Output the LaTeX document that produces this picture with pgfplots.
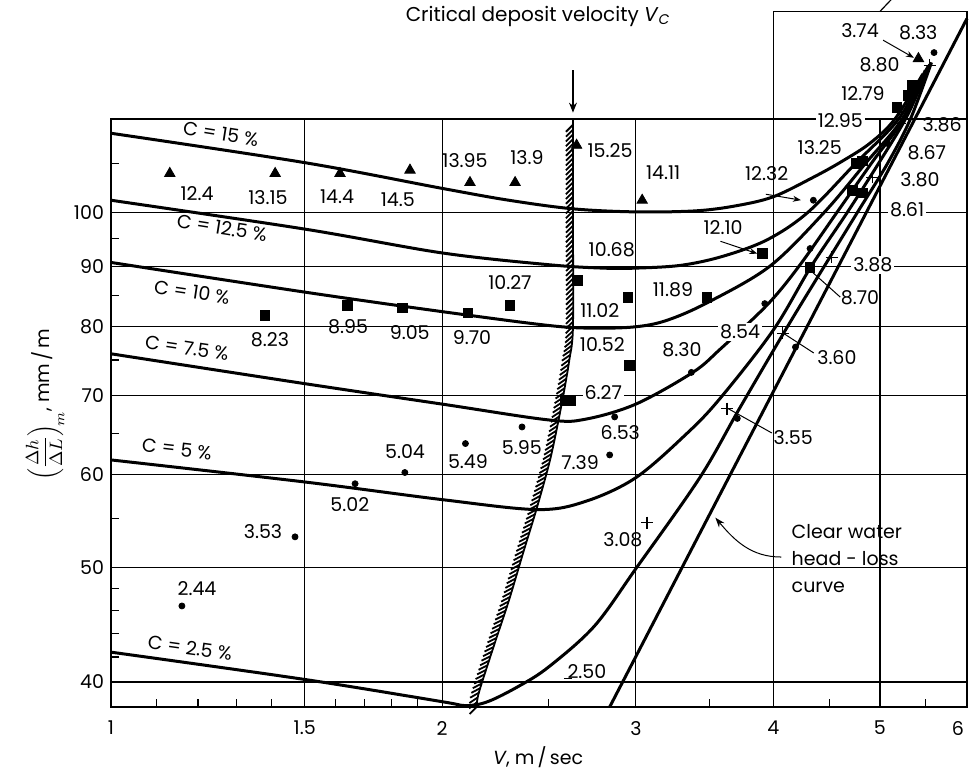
\documentclass[border=0pt]{standalone}
\usepackage{pgfplots}
\pgfplotsset{compat=1.18}
\usepackage{fontspec}
\setmainfont{Poppins}
\usetikzlibrary{decorations.pathreplacing,arrows.meta}
\begin{document}
\begin{tikzpicture}[font=\fontsize{9.5}{11}\selectfont]
\begin{axis}[
  scale only axis, width=428pt, height=294pt,
  xmode=log, ymode=log,
  xmin=1, xmax=6, ymin=38.1, ymax=120,
  xtick={1,1.5,2,3,4,5,6}, xticklabels={1,1.5,2,3,4,5,\makebox[0pt][r]{6\kern1.5pt}},
  xticklabel style={yshift=-3.5pt},
  ytick={40,50,60,70,80,90,100}, yticklabels={40,50,60,70,80,90,100},
  minor xtick={1.1,1.2,1.3,1.4,1.6,1.7,1.8,1.9,2.5,3.5,4.5,5.5},
  minor ytick={42,44,46,48,55,65,75,85,95,110},
  tick pos=left, tick align=inside,
  major tick length=0pt, minor tick length=4pt,
  grid=major, major grid style={black, line width=0.6pt},
  axis line style={black, line width=0.9pt},
  tick style={black, line width=0.6pt},
  clip=false,
  /pgf/number format/assume math mode=true,
  xlabel={\textit{V}, m\,/\,sec},
  xlabel style={at={(axis description cs:0.499,-0.085)}, anchor=center},
  ylabel={$\left(\displaystyle\frac{\Delta h}{\Delta L}\right)_{\!m}$, mm\,/\,m},
  ylabel style={at={(axis description cs:-0.077,0.514)}, anchor=center},
  curve/.style={black, line width=1.5pt, smooth, tension=0.55},
]
% clear water line
\addplot[black, line width=1.5pt] coordinates {(2.84,38.1) (6.0,146)};
% C = 2.5 %
\addplot[curve] coordinates {(1,42.4) (1.5,40.2) (2,38.5) (2.1,38.2) (2.2,38.5) (2.35,39.7) (2.5,41.2) (2.75,44.6) (3.0,49.9) (3.43,59.6) (3.73,68.3) (4.12,80) (4.45,90) (4.77,100) (5.08,110) (5.33,120) (5.57,134)};
% C = 5 %
\addplot[curve] coordinates {(1,61.7) (1.5,59.1) (2,57.1) (2.44,56.0) (2.7,56.9) (3.0,59.6) (3.34,65.0) (3.58,69.6) (4.0,79.5) (4.33,90) (4.67,100) (5.0,110.5) (5.3,121) (5.55,133.5)};
% C = 7.5 %
\addplot[curve] coordinates {(1,75.9) (1.5,71.6) (2,68.8) (2.5,66.7) (2.7,66.8) (3.0,68.8) (3.38,73.2) (3.58,76.6) (3.95,83.5) (4.22,90) (4.57,100) (4.92,110.3) (5.27,120.5) (5.53,133)};
% C = 10 %
\addplot[curve] coordinates {(1,90.7) (1.5,85.6) (2,82.4) (2.5,80.2) (2.75,79.8) (3.0,80.0) (3.2,81.0) (3.48,83.8) (3.97,90) (4.45,100) (4.85,110) (5.24,120) (5.52,132.5)};
% C = 12.5 %
\addplot[curve] coordinates {(1,102.4) (1.5,96.8) (2,92.4) (2.5,90.3) (2.8,89.7) (3.0,89.7) (3.3,90.2) (3.6,91.8) (3.95,94.8) (4.30,100) (4.75,110) (5.2,120) (5.5,132)};
% C = 15 %
\addplot[curve] coordinates {(1,116.7) (1.5,110.2) (2,104.8) (2.3,102.4) (2.63,100.7) (3.0,100.1) (3.4,100.3) (3.7,101.3) (4.0,103.1) (4.35,107.1) (4.62,110.5) (4.9,114.5) (5.16,120) (5.47,131)};
% critical deposit velocity (hatched)
\addplot[black, line width=0.9pt, smooth, tension=0.5,
  postaction={decorate, decoration={border, segment length=2.4pt, amplitude=5pt, angle=135}}]
  coordinates {(2.15,38.1) (2.16,39.2) (2.23,43) (2.30,46.9) (2.37,51.5) (2.44,56.3) (2.51,62) (2.57,69) (2.61,75) (2.63,80) (2.63,100) (2.63,120)};
% markers
\addplot[only marks, mark=triangle*, mark size=3pt, black] coordinates {(1.131,107.9) (1.41,107.9) (1.615,107.9) (1.87,108.6) (2.12,106.0) (2.33,106.0) (2.65,114) (3.04,102.4) (5.42,135)};
\addplot[only marks, mark=square*, mark size=2.4pt, black] coordinates {(1.38,81.8) (1.64,83.4) (1.84,83.0) (2.11,82.2) (2.305,83.4) (2.655,87.6) (2.95,84.7) (2.96,74.2) (2.615,69.3) (2.59,69.3) (3.48,84.7) (3.91,92.3) (4.32,89.8) (4.72,104.4) (4.82,103.9) (4.76,110.0) (4.82,110.6) (5.18,122.7) (5.30,125.6) (5.35,128.1)};
\addplot[only marks, mark=*, mark size=1.5pt, black] coordinates {(1.16,46.4) (1.47,53.1) (1.667,58.9) (1.85,60.2) (2.10,63.7) (2.364,65.8) (2.84,62.3) (2.87,67.1) (3.37,73.2) (3.71,66.9) (3.93,83.7) (4.19,76.9) (4.32,93.2) (4.35,102.4) (5.08,114.4) (5.6,136.6)};
\addplot[only marks, mark=+, mark size=3pt, black, line width=0.7pt] coordinates {(3.07,54.6) (3.63,68.2) (4.08,79.0) (4.52,91.6) (4.92,107.1) (5.22,119.0) (5.55,133.2)};
% top-right box
\draw[line width=0.8pt] (axis cs:4,120) -- (axis cs:4,148) -- (axis cs:6,148) -- (axis cs:6,120);
\draw[line width=0.6pt] (axis cs:5,148) -- ++(0,-4pt);
% Vc arrow and title
\draw[line width=0.6pt, -{Stealth[length=5pt,width=4pt]}] (axis cs:2.63,132) -- (axis cs:2.63,121.5);
\node[font=\fontsize{10}{12}\selectfont] at (axis description cs:0.499,1.175) {Critical deposit velocity \textit{V}\textsubscript{\textit{C}}};
% curve labels
\node[rotate=-9] at (axis description cs:0.1285,0.9745) {C = 15 \%};
\node[rotate=-9] at (axis description cs:0.1297,0.8146) {C = 12.5 \%};
\node[rotate=-8.5] at (axis description cs:0.0947,0.7058) {C = 10 \%};
\node[rotate=-8.5] at (axis description cs:0.0888,0.6105) {C = 7.5 \%};
\node[rotate=-6.5] at (axis description cs:0.0771,0.4388) {C = 5 \%};
\node[rotate=-8] at (axis description cs:0.0923,0.1003) {C = 2.5 \%};
% point labels
\node at (axis description cs:0.1005,0.874) {12.4};
\node at (axis description cs:0.1834,0.867) {13.15};
\node at (axis description cs:0.264,0.867) {14.4};
\node at (axis description cs:0.335,0.862) {14.5};
\node at (axis description cs:0.4136,0.930) {13.95};
\node at (axis description cs:0.486,0.935) {13.9};
\node at (axis description cs:0.583,0.947) {15.25};
\node at (axis description cs:0.645,0.908) {14.11};
\node at (axis description cs:0.1857,0.624) {8.23};
\node at (axis description cs:0.277,0.646) {8.95};
\node at (axis description cs:0.349,0.636) {9.05};
\node at (axis description cs:0.4217,0.629) {9.70};
\node at (axis description cs:0.466,0.721) {10.27};
\node at (axis description cs:0.585,0.777) {10.68};
\node at (axis description cs:0.571,0.675) {11.02};
\node at (axis description cs:0.574,0.616) {10.52};
\node at (axis description cs:0.6565,0.709) {11.89};
\node[fill=white, inner sep=1pt] at (axis description cs:0.575,0.534) {6.27};
\node at (axis description cs:0.715,0.815) {12.10};
\node at (axis description cs:0.766,0.908) {12.32};
\node at (axis description cs:0.828,0.951) {13.25};
\node[fill=white, inner sep=1pt] at (axis description cs:0.852,0.998) {12.95};
\node at (axis description cs:0.8785,1.044) {12.79};
\node at (axis description cs:0.898,1.092) {8.80};
\node at (axis description cs:0.875,1.151) {3.74};
\node at (axis description cs:0.943,1.146) {8.33};
\node at (axis description cs:0.971,0.990) {3.86};
\node at (axis description cs:0.953,0.942) {8.67};
\node at (axis description cs:0.945,0.896) {3.80};
\node[fill=white, inner sep=1pt] at (axis description cs:0.930,0.845) {8.61};
\node[fill=white, inner sep=1pt] at (axis description cs:0.890,0.752) {3.88};
\node at (axis description cs:0.875,0.696) {8.70};
\node[fill=white, inner sep=1pt] at (axis description cs:0.735,0.638) {8.54};
\node at (axis description cs:0.848,0.594) {3.60};
\node at (axis description cs:0.667,0.607) {8.30};
\node at (axis description cs:0.797,0.459) {3.55};
\node at (axis description cs:0.595,0.466) {6.53};
\node[fill=white, inner sep=1pt] at (axis description cs:0.548,0.415) {7.39};
\node at (axis description cs:0.598,0.284) {3.08};
\node at (axis description cs:0.556,0.060) {2.50};
\node at (axis description cs:0.480,0.442) {5.95};
\node at (axis description cs:0.417,0.417) {5.49};
\node at (axis description cs:0.3435,0.434) {5.04};
\node at (axis description cs:0.279,0.344) {5.02};
\node at (axis description cs:0.1776,0.298) {3.53};
\node at (axis description cs:0.1005,0.202) {2.44};
% leaders
\draw[line width=0.5pt, -{Stealth[length=4pt,width=3pt]}] (axis description cs:0.902,1.134) -- (axis description cs:0.938,1.104);
\draw[line width=0.5pt, -{Stealth[length=4pt,width=3pt]}] (axis description cs:0.765,0.872) -- (axis description cs:0.806,0.862);
\draw[line width=0.5pt, -{Stealth[length=4pt,width=3pt]}] (axis description cs:0.712,0.792) -- (axis description cs:0.755,0.771);
\draw[line width=0.5pt] (axis description cs:0.7196,0.5085) -- (axis description cs:0.772,0.466);
\draw[line width=0.5pt] (axis description cs:0.785,0.636) -- (axis description cs:0.821,0.602);
\draw[line width=0.5pt] (axis description cs:0.8166,0.743) -- (axis description cs:0.852,0.697);
\draw[line width=0.5pt] (axis description cs:0.529,0.049) -- (axis description cs:0.538,0.049);
% clear water label
\node[align=left, anchor=west, font=\fontsize{9.5}{13.5}\selectfont] at (axis description cs:0.787,0.253) {Clear water\\head - loss\\curve};
\draw[line width=0.5pt, -{Stealth[length=5pt,width=3.5pt]}] (axis description cs:0.783,0.255) to[out=180,in=-50] (axis description cs:0.706,0.322);
\end{axis}
\pgfresetboundingbox
\path[use as bounding box] (-55.5pt,-32.5pt) rectangle (429.5pt,353.5pt);
\end{tikzpicture}
\end{document}
